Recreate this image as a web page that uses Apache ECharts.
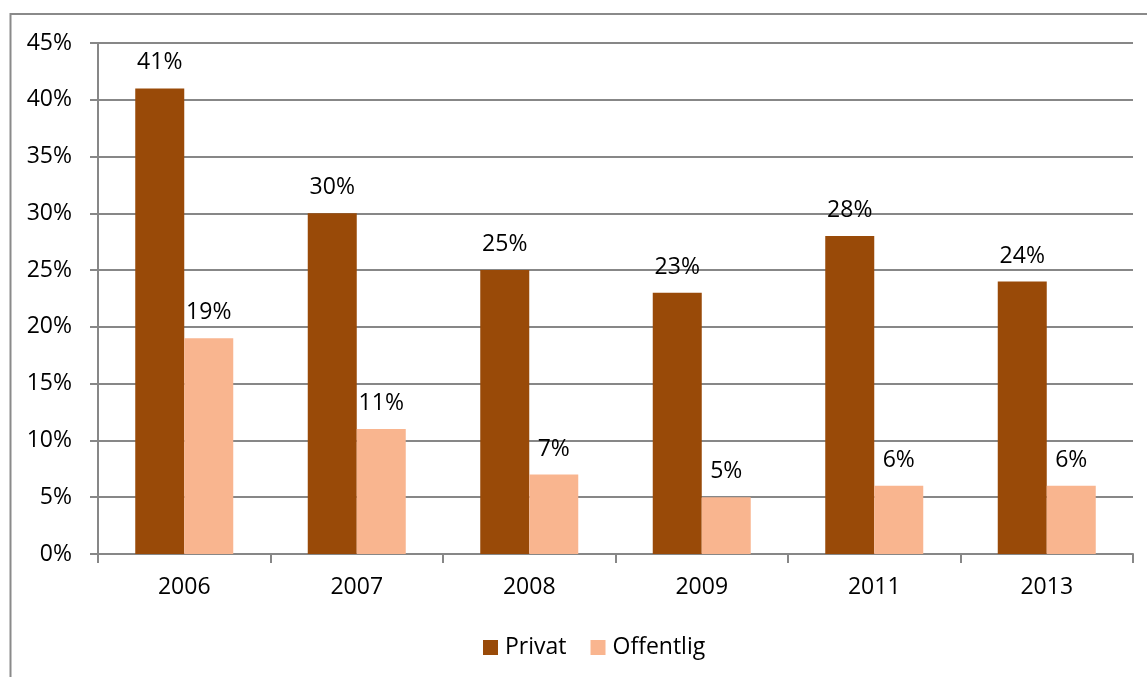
<!DOCTYPE html>
<html>
<head>
<meta charset="utf-8">
<script src="https://cdn.jsdelivr.net/npm/echarts@6/dist/echarts.min.js"></script>
<style>
html, body { margin: 0; padding: 0; background: #fff; }
#chart { width: 1147px; height: 677px; }
</style>
</head>
<body>
<div id="chart"></div>
<script>
var years = ['2006', '2007', '2008', '2009', '2011', '2013'];
var privat = [41, 30, 25, 23, 28, 24];
var offentlig = [19, 11, 7, 5, 6, 6];

var font = 'Open Sans';
var gridColor = '#878787';

var option = {
    animation: false,
    backgroundColor: '#fff',
    textStyle: { fontFamily: font },
    graphic: [{
        type: 'rect',
        shape: { x: 10.5, y: 14, width: 1200, height: 700 },
        style: { fill: 'none', stroke: '#8a8a8a', lineWidth: 2 },
        silent: true
    }],
    grid: { left: 98, right: 14, top: 43, bottom: 123 },
    legend: {
        data: ['Privat', 'Offentlig'],
        top: 631,
        left: 478,
        icon: 'rect',
        itemWidth: 15,
        itemHeight: 15,
        itemGap: 24,
        textStyle: { fontFamily: font, fontSize: 23, color: '#000', padding: [0, 0, 0, 2] }
    },
    xAxis: {
        type: 'category',
        data: years,
        axisLine: { lineStyle: { color: gridColor, width: 2 } },
        axisTick: { show: true, length: 9, lineStyle: { color: gridColor, width: 2 } },
        axisLabel: { margin: 22, fontFamily: font, fontSize: 23, color: '#000' }
    },
    yAxis: {
        type: 'value',
        min: 0,
        max: 45,
        interval: 5,
        axisLine: { show: true, lineStyle: { color: gridColor, width: 2 } },
        axisTick: { show: true, length: 8, lineStyle: { color: gridColor, width: 2 } },
        splitLine: { lineStyle: { color: gridColor, width: 2 } },
        axisLabel: { formatter: '{value}%', margin: 26, fontFamily: font, fontSize: 23, color: '#000' }
    },
    series: [
        {
            name: 'Privat',
            type: 'bar',
            data: privat,
            barWidth: 49,
            barGap: '0%',
            itemStyle: { color: '#994a08' },
            label: { show: true, position: 'top', distance: 14, formatter: '{c}%', fontFamily: font, fontSize: 23, color: '#000' }
        },
        {
            name: 'Offentlig',
            type: 'bar',
            data: offentlig,
            barWidth: 49,
            barGap: '0%',
            itemStyle: { color: '#f9b58f' },
            label: { show: true, position: 'top', distance: 14, formatter: '{c}%', fontFamily: font, fontSize: 23, color: '#000' }
        }
    ]
};

echarts.init(document.getElementById('chart')).setOption(option);
</script>
</body>
</html>
